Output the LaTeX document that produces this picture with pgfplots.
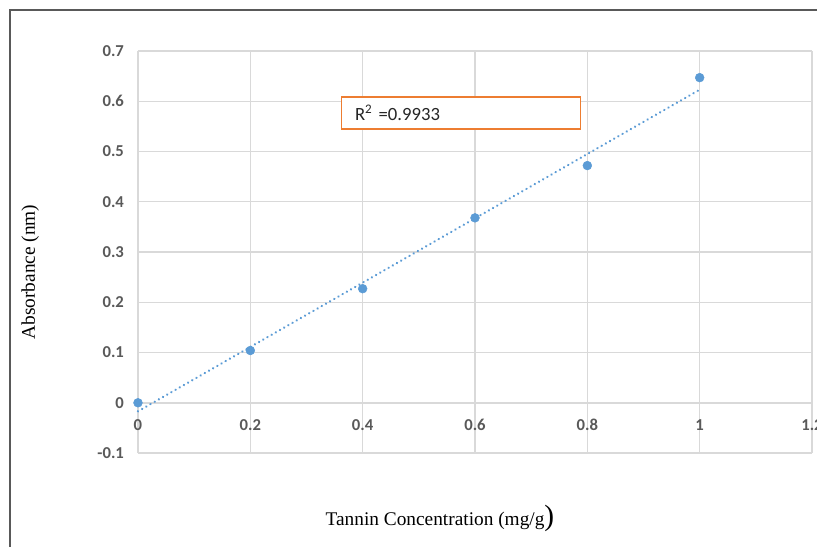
\documentclass[border=0pt]{standalone}
\usepackage{pgfplots}
\usepackage{pgfplotstable}
\pgfplotsset{compat=1.18}
\usepackage{fontspec}
\setmainfont{Liberation Serif}
\newfontfamily\calibri{Carlito}

\definecolor{xlblue}{HTML}{5B9BD5}
\definecolor{xlorange}{HTML}{ED7D31}
\definecolor{gridgray}{HTML}{D9D9D9}
\definecolor{tickgray}{HTML}{595959}

% tannin standard curve
\pgfplotstableread{
x    y
0    0
0.2  0.104
0.4  0.227
0.6  0.368
0.8  0.472
1.0  0.647
}\standard

\begin{document}
\begin{tikzpicture}
\begin{axis}[
    scale only axis,
    width=505.5pt, height=301.5pt,
    xmin=0, xmax=1.2,
    ymin=-0.1, ymax=0.7,
    enlargelimits=false,
    axis x line=middle,
    axis y line=left,
    axis line style={draw=none},
    hide obscured x ticks=false,
    hide obscured y ticks=false,
    major tick length=0pt,
    tick style={draw=none},
    grid=major,
    major grid style={gridgray, line width=1.1pt},
    xtick={0,0.2,0.4,0.6,0.8,1,1.2},
    xticklabels={0,0.2,0.4,0.6,0.8,1,1.2},
    ytick={-0.1,0,0.1,0.2,0.3,0.4,0.5,0.6,0.7},
    yticklabels={-0.1,0,0.1,0.2,0.3,0.4,0.5,0.6,0.7},
    ticklabel style={font=\calibri\bfseries\fontsize{12.5}{14}\selectfont, text=tickgray},
    xticklabel style={anchor=north, yshift=-9pt},
    yticklabel style={anchor=east, xshift=-7pt},
    xlabel={Tannin Concentration (mg/g{\fontsize{22}{24}\selectfont)}},
    ylabel={Absorbance (nm)},
    label style={font=\fontsize{14.5}{16}\selectfont},
    xlabel style={at={(rel axis cs:0.448,-0.162)}, anchor=center},
    ylabel style={at={(rel axis cs:-0.160,0.45)}, anchor=center, rotate=0},
    clip=false,
]
\addplot[xlblue, line width=1.9pt, dash pattern=on 0.01pt off 3.6pt, line cap=round]
    table[x=x, y={create col/linear regression={y=y}}] {\standard};
\addplot[only marks, mark=*, mark size=3.3pt, xlblue, mark options={draw=xlblue, fill=xlblue}]
    table[x=x, y=y] {\standard};

\node[draw=xlorange, line width=1.1pt, fill=white, anchor=west,
      minimum height=24pt, text width=159pt, inner xsep=10pt, align=left,
      font=\calibri\fontsize{14}{16}\selectfont, text=black!85]
    at (axis cs:0.3614,0.577) {R\textsuperscript{2} =0.9933};

\draw[tickgray, line width=1.2pt]
    (rel axis cs:-0.1899,-0.25) -- (rel axis cs:-0.1899,1.102) -- (rel axis cs:1.03,1.102);

\coordinate (bbsw) at (rel axis cs:-0.2047,-0.2313);
\coordinate (bbne) at (rel axis cs:1.0074,1.1269);
\end{axis}
\pgfresetboundingbox
\useasboundingbox (bbsw) rectangle (bbne);
\end{tikzpicture}
\end{document}
